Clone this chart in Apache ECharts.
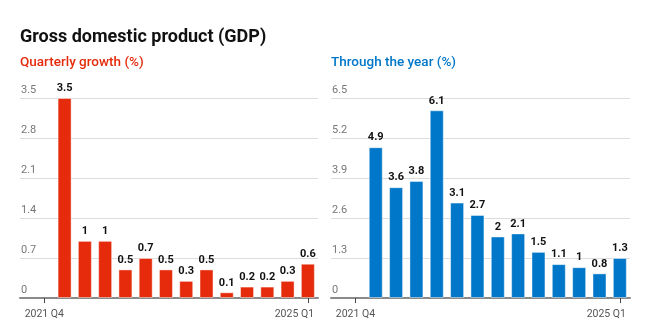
<!DOCTYPE html>
<html>
<head>
<meta charset="utf-8">
<script src="https://cdn.jsdelivr.net/npm/echarts@6/dist/echarts.min.js"></script>
<style>
  html, body { margin: 0; padding: 0; background: #fff; }
  #chart { width: 650px; height: 333px; }
</style>
</head>
<body>
<div id="chart"></div>
<script>
// Quarters on the horizontal axis (first quarter is the starting point, no bar)
const quarters = [
  '2021 Q4',
  '2022 Q1', '2022 Q2', '2022 Q3', '2022 Q4',
  '2023 Q1', '2023 Q2', '2023 Q3', '2023 Q4',
  '2024 Q1', '2024 Q2', '2024 Q3', '2024 Q4',
  '2025 Q1'
];
// Quarterly growth (%)
const quarterlyGrowth = [null, 3.5, 1, 1, 0.5, 0.7, 0.5, 0.3, 0.5, 0.1, 0.2, 0.2, 0.3, 0.6];
// Through the year growth (%)
const yearGrowth = [null, 4.9, 3.6, 3.8, 6.1, 3.1, 2.7, 2, 2.1, 1.5, 1.1, 1, 0.8, 1.3];
// Axis ticks shown on each panel
const quarterlyTicks = { min: 0, max: 3.5, step: 0.7 };
const yearTicks = { min: 0, max: 6.5, step: 1.3 };
const labelledQuarters = [0, quarters.length - 1];

const RED = '#e52b0b';
const BLUE = '#0077c8';
const FONT = 'Roboto, "Noto Sans", sans-serif';

function toPoints(values) {
  const out = [];
  values.forEach((v, i) => { if (v !== null) out.push([i, v]); });
  return out;
}

function xAxisFor(gridIndex) {
  const last = quarters.length - 1;
  return {
    type: 'value',
    gridIndex,
    min: -1.2,
    max: 13.5,
    splitLine: { show: false },
    axisLine: { show: true, lineStyle: { color: '#8a8a8a', width: 2 } },
    axisTick: {
      show: true,
      customValues: labelledQuarters,
      length: 5,
      lineStyle: { color: '#444', width: 1 }
    },
    axisLabel: {
      customValues: labelledQuarters,
      // the closing quarter is pulled left so it ends just past its tick
      formatter: v => {
        const i = Math.round(v);
        return i === last ? '{t|' + quarters[i] + '}{g| }' : '{t|' + quarters[i] + '}';
      },
      rich: {
        t: { color: '#555', fontFamily: FONT, fontSize: 10.5 },
        g: { width: 27, fontSize: 10.5 }
      },
      margin: 11
    }
  };
}

function yAxisFor(gridIndex, t) {
  return {
    type: 'value',
    gridIndex,
    min: t.min,
    max: t.max,
    interval: t.step,
    axisLine: { show: false },
    axisTick: { show: false },
    splitLine: { show: true, lineStyle: { color: '#dcdcdc', width: 1 } },
    axisLabel: {
      inside: true,
      margin: 1,
      verticalAlign: 'bottom',
      padding: [0, 0, 2, 0],
      color: '#777',
      fontFamily: FONT,
      fontSize: 11,
      formatter: v => String(+v.toFixed(1))
    }
  };
}

function barSeries(values, color, idx) {
  return {
    type: 'bar',
    xAxisIndex: idx,
    yAxisIndex: idx,
    data: toPoints(values),
    barWidth: 14,
    itemStyle: { color, borderColor: 'rgba(255,255,255,0.45)', borderWidth: 1 },
    label: {
      show: true,
      position: 'top',
      distance: 4,
      color: '#111',
      fontFamily: FONT,
      fontWeight: 'bold',
      fontSize: 11,
      formatter: p => String(p.value[1])
    }
  };
}

const chart = echarts.init(document.getElementById('chart'), null, { renderer: 'canvas' });
chart.setOption({
  animation: false,
  backgroundColor: '#fff',
  title: [
    {
      text: 'Gross domestic product (GDP)',
      left: 15, top: 23,
      textStyle: { fontFamily: FONT, fontWeight: 'bold', fontSize: 18, color: '#111' }
    },
    {
      text: 'Quarterly growth (%)',
      left: 15, top: 51,
      textStyle: { fontFamily: FONT, fontWeight: 500, fontSize: 13.5, color: RED }
    },
    {
      text: 'Through the year (%)',
      left: 326, top: 51,
      textStyle: { fontFamily: FONT, fontWeight: 500, fontSize: 13.5, color: BLUE }
    }
  ],
  grid: [
    { left: 20, top: 98, width: 298, height: 200 },
    { left: 331, top: 98, width: 299, height: 200 }
  ],
  xAxis: [xAxisFor(0), xAxisFor(1)],
  yAxis: [yAxisFor(0, quarterlyTicks), yAxisFor(1, yearTicks)],
  series: [
    barSeries(quarterlyGrowth, RED, 0),
    barSeries(yearGrowth, BLUE, 1)
  ]
});
</script>
</body>
</html>
